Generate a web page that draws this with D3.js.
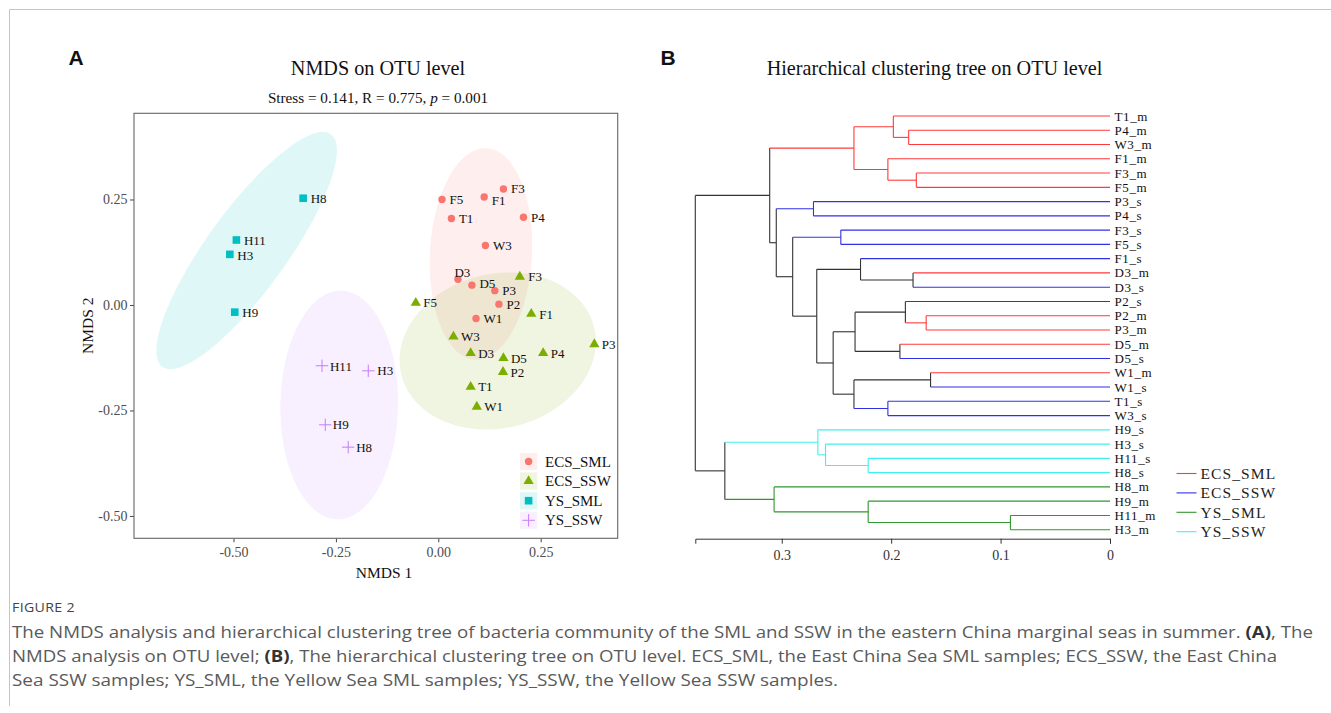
<!DOCTYPE html>
<html><head><meta charset="utf-8">
<script src="https://cdn.jsdelivr.net/npm/d3@7"></script>
<style>body{margin:0;background:#fff;} svg{display:block;}</style>
</head><body>
<svg id="fig" width="1331" height="713"></svg>
<script>
// ---------------- DATA ----------------
const groups = ["ECS_SML", "ECS_SSW", "YS_SML", "YS_SSW"];

const ecsSmlSites = ["F3","F5","F1","T1","P4","W3","D3","D5","P3","P2","W1"];
const ecsSmlX = [0.159, 0.009, 0.112, 0.032, 0.208, 0.115, 0.048, 0.082, 0.138, 0.148, 0.092];
const ecsSmlY = [0.275, 0.250, 0.256, 0.205, 0.208, 0.141, 0.061, 0.047, 0.034, 0.002, -0.032];

const ecsSswSites = ["F3","F5","F1","W3","D3","D5","P4","P3","P2","T1","W1"];
const ecsSswX = [0.199, -0.055, 0.227, 0.037, 0.079, 0.159, 0.256, 0.381, 0.158, 0.079, 0.094];
const ecsSswY = [0.067, 0.005, -0.021, -0.075, -0.114, -0.126, -0.114, -0.093, -0.159, -0.194, -0.241];

const ysSmlSites = ["H8","H11","H3","H9"];
const ysSmlX = [-0.330, -0.493, -0.509, -0.497];
const ysSmlY = [0.253, 0.154, 0.120, -0.017];

const ysSswSites = ["H11","H3","H9","H8"];
const ysSswX = [-0.284, -0.171, -0.276, -0.220];
const ysSswY = [-0.144, -0.156, -0.284, -0.337];

// 95% ellipses (data units): centre, semi-axes, angle of major axis (deg)
const ellipseCx = [0.104, 0.145, -0.468, -0.242];
const ellipseCy = [0.121, -0.109, 0.129, -0.237];
const ellipseA = [0.251, 0.242, 0.344, 0.271];
const ellipseB = [0.1245, 0.183, 0.0967, 0.1436];
const ellipseAngle = [86.7, 12.4, 53.1, 89];

const xTicks = [-0.50, -0.25, 0.00, 0.25];
const yTicks = [-0.50, -0.25, 0.00, 0.25];

// Dendrogram
const leafLabels = ["T1_m","P4_m","W3_m","F1_m","F3_m","F5_m","P3_s","P4_s","F3_s","F5_s",
  "F1_s","D3_m","D3_s","P2_s","P2_m","P3_m","D5_m","D5_s","W1_m","W1_s",
  "T1_s","W3_s","H9_s","H3_s","H11_s","H8_s","H8_m","H9_m","H11_m","H3_m"];
const leafGroups = ["ECS_SML","ECS_SML","ECS_SML","ECS_SML","ECS_SML","ECS_SML","ECS_SSW","ECS_SSW","ECS_SSW","ECS_SSW",
  "ECS_SSW","ECS_SML","ECS_SSW","ECS_SSW","ECS_SML","ECS_SML","ECS_SML","ECS_SSW","ECS_SML","ECS_SSW",
  "ECS_SSW","ECS_SSW","YS_SSW","YS_SSW","YS_SSW","YS_SSW","YS_SML","YS_SML","YS_SML","YS_SML"];
// merges: [left, right, height]; "m<n>" refers to the n-th merge (1-based)
const merges = [
  ["P4_m","W3_m",0.184], ["T1_m","m1",0.198], ["F3_m","F5_m",0.177], ["F1_m","m3",0.203],
  ["m2","m4",0.234], ["P3_s","P4_s",0.271], ["F3_s","F5_s",0.246], ["D3_m","D3_s",0.180],
  ["F1_s","m8",0.228], ["P2_m","P3_m",0.168], ["P2_s","m10",0.187], ["D5_m","D5_s",0.192],
  ["m11","m12",0.233], ["W1_m","W1_s",0.164], ["T1_s","W3_s",0.203], ["m14","m15",0.234],
  ["m13","m16",0.253], ["m9","m17",0.268], ["m7","m18",0.290], ["m6","m19",0.305],
  ["m5","m20",0.311], ["H11_s","H8_s",0.221], ["H3_s","m22",0.260], ["H9_s","m23",0.267],
  ["H11_m","H3_m",0.091], ["H9_m","m25",0.221], ["H8_m","m26",0.307], ["m24","m27",0.352],
  ["m21","m28",0.379]
];
const treeTicks = [0.3, 0.2, 0.1, 0];

// ---------------- STYLE ----------------
const ptColor = {ECS_SML:"#F8766D", ECS_SSW:"#7CAE00", YS_SML:"#00BFC4", YS_SSW:"#C77CFF"};
const treeColor = {ECS_SML:"#ff3a3a", ECS_SSW:"#3030e8", YS_SML:"#2f962f", YS_SSW:"#3ff0f0"};
const serif = "'Liberation Serif','Times New Roman',serif";
const sans = "'Liberation Sans',Arial,sans-serif";

const svg = d3.select("#fig");

// frame
svg.append("line").attr("x1",9.5).attr("y1",9.5).attr("x2",1331).attr("y2",9.5).attr("stroke","#c4c4c4");
svg.append("line").attr("x1",9.5).attr("y1",9.5).attr("x2",9.5).attr("y2",706).attr("stroke","#c4c4c4");

// panel letters
svg.append("text").attr("x",68.5).attr("y",65).text("A").attr("font-family",sans).attr("font-weight","bold").attr("font-size",21).attr("fill","#111");
svg.append("text").attr("x",660.5).attr("y",65).text("B").attr("font-family",sans).attr("font-weight","bold").attr("font-size",21).attr("fill","#111");

// ---------------- PANEL A ----------------
const x = d3.scaleLinear().domain([-0.743, 0.438]).range([134, 617.7]);
const y = d3.scaleLinear().domain([-0.553, 0.4543]).range([538.3, 113.3]);

svg.append("text").attr("x",378).attr("y",75).attr("text-anchor","middle")
  .attr("font-family",serif).attr("font-size",20.2).attr("fill","#111").text("NMDS on OTU level");
const sub = svg.append("text").attr("x",378).attr("y",103.3).attr("text-anchor","middle")
  .attr("font-family",serif).attr("font-size",15.2).attr("fill","#111");
sub.append("tspan").text("Stress = 0.141, R = 0.775, ");
sub.append("tspan").attr("font-style","italic").text("p");
sub.append("tspan").text(" = 0.001");

const ellLine = d3.line().x(d=>x(d[0])).y(d=>y(d[1])).curve(d3.curveLinearClosed);
function ellipsePts(cx, cy, a, b, deg){
  const t = deg*Math.PI/180;
  return d3.range(0, 360, 3).map(k=>{
    const u = k*Math.PI/180, ex = a*Math.cos(u), ey = b*Math.sin(u);
    return [cx + ex*Math.cos(t) - ey*Math.sin(t), cy + ex*Math.sin(t) + ey*Math.cos(t)];
  });
}
const gE = svg.append("g");
groups.forEach((g,i)=>{
  gE.append("path").attr("d", ellLine(ellipsePts(ellipseCx[i], ellipseCy[i], ellipseA[i], ellipseB[i], ellipseAngle[i])))
    .attr("fill", ptColor[g]).attr("fill-opacity", 0.12).attr("stroke","none");
});

// axes
const xAxis = d3.axisBottom(x).tickValues(xTicks).tickFormat(d=>d.toFixed(2)).tickSize(4).tickSizeOuter(0).tickPadding(4.5);
const yAxis = d3.axisLeft(y).tickValues(yTicks).tickFormat(d=>d.toFixed(2)).tickSize(4).tickSizeOuter(0).tickPadding(2.5);
const gx = svg.append("g").attr("transform","translate(0,538.3)").call(xAxis);
const gy = svg.append("g").attr("transform","translate(134,0)").call(yAxis);
[gx, gy].forEach(g=>{
  g.attr("font-family",serif);
  g.select(".domain").remove();
  g.selectAll(".tick line").attr("stroke","#444");
  g.selectAll(".tick text").attr("font-family",serif).attr("font-size",14).attr("fill","#4d4d4d");
});
svg.append("rect").attr("x",134).attr("y",113.3).attr("width",617.7-134).attr("height",538.3-113.3)
  .attr("fill","none").attr("stroke","#666").attr("stroke-width",1.1);

svg.append("text").attr("x",384).attr("y",578.3).attr("text-anchor","middle")
  .attr("font-family",serif).attr("font-size",15.5).attr("fill","#111").text("NMDS 1");
svg.append("text").attr("transform","translate(93,325.8) rotate(-90)").attr("text-anchor","middle")
  .attr("font-family",serif).attr("font-size",15.5).attr("fill","#111").text("NMDS 2");

// marker drawing
function drawMarker(sel, g, cx, cy){
  if(g==="ECS_SML"){
    sel.append("circle").attr("cx",cx).attr("cy",cy).attr("r",3.7).attr("fill",ptColor[g]);
  } else if(g==="ECS_SSW"){
    sel.append("path").attr("d", d3.symbol(d3.symbolTriangle, 46)()).attr("transform",`translate(${cx},${cy})`).attr("fill",ptColor[g]);
  } else if(g==="YS_SML"){
    sel.append("rect").attr("x",cx-3.8).attr("y",cy-3.8).attr("width",7.6).attr("height",7.6).attr("fill",ptColor[g]);
  } else {
    sel.append("path").attr("d",`M${cx-6.2},${cy}H${cx+6.2}M${cx},${cy-6.2}V${cy+6.2}`).attr("stroke",ptColor[g]).attr("stroke-width",1).attr("fill","none");
  }
}

const pointSets = [
  {g:"ECS_SML", s:ecsSmlSites, xs:ecsSmlX, ys:ecsSmlY},
  {g:"ECS_SSW", s:ecsSswSites, xs:ecsSswX, ys:ecsSswY},
  {g:"YS_SML", s:ysSmlSites, xs:ysSmlX, ys:ysSmlY},
  {g:"YS_SSW", s:ysSswSites, xs:ysSswX, ys:ysSswY}
];
// label placement nudges (pixels)
const labelNudge = {"ECS_SML:F1":[0,4], "ECS_SML:D3":[-11,-6.7], "ECS_SML:D5":[0,-1.3],
  "ECS_SSW:F1":[0.5,1], "ECS_SSW:F3":[1,0], "YS_SML:H3":[0,1.3], "YS_SSW:H11":[0.5,1], "YS_SSW:H3":[1.5,-0.5], "YS_SSW:H8":[0.5,0.7]};

const gP = svg.append("g"), gL = svg.append("g");
pointSets.forEach(ps=>{
  ps.s.forEach((site,i)=>{
    const cx = x(ps.xs[i]), cy = y(ps.ys[i]);
    drawMarker(gP, ps.g, cx, cy);
    const n = labelNudge[ps.g+":"+site] || [0,0];
    gL.append("text").attr("x", cx + 7.5 + n[0]).attr("y", cy + n[1]).attr("dominant-baseline","central")
      .attr("font-family",serif).attr("font-size",13).attr("fill","#111").text(site);
  });
});

// legend A
const legA = svg.append("g");
groups.forEach((g,i)=>{
  const cy = 461.5 + i*19.6;
  legA.append("rect").attr("x",520).attr("y",cy-8.6).attr("width",17.2).attr("height",17.2)
    .attr("fill",ptColor[g]).attr("fill-opacity",0.12);
  drawMarker(legA, g, 528.6, cy);
  legA.append("text").attr("x",545).attr("y",cy).attr("dominant-baseline","central")
    .attr("font-family",serif).attr("font-size",15).attr("fill","#111").text(g);
});

// ---------------- PANEL B ----------------
svg.append("text").attr("x",934.5).attr("y",75).attr("text-anchor","middle")
  .attr("font-family",serif).attr("font-size",20.2).attr("fill","#111").text("Hierarchical clustering tree on OTU level");

const leafY = d3.scalePoint().domain(leafLabels).range([116, 529.7]);
const hx = d3.scaleLinear().domain([0.379, 0]).range([695.3, 1110]);

const nodes = {};
leafLabels.forEach((l,i)=>{ nodes[l] = {name:l, y:leafY(l), h:0, group:leafGroups[i], leaf:true}; });
merges.forEach((m,i)=>{
  const a = nodes[m[0]], b = nodes[m[1]];
  nodes["m"+(i+1)] = {children:[a,b], h:m[2], y:(a.y+b.y)/2, group:(a.group && a.group===b.group) ? a.group : null};
});
const col = n => n.group ? treeColor[n.group] : "#333";

const gT = svg.append("g").attr("fill","none").attr("stroke-width",1.1);
merges.forEach((m,i)=>{
  const nd = nodes["m"+(i+1)];
  const [a,b] = nd.children;
  const px = hx(nd.h);
  gT.append("line").attr("x1",px).attr("x2",px).attr("y1",a.y).attr("y2",b.y).attr("stroke",col(nd));
  [a,b].forEach(c=>{
    gT.append("line").attr("x1",px).attr("x2",hx(c.h)).attr("y1",c.y).attr("y2",c.y).attr("stroke",col(c));
  });
});

leafLabels.forEach(l=>{
  svg.append("text").attr("x",1114.5).attr("y",leafY(l)).attr("dominant-baseline","central")
    .attr("font-family",serif).attr("font-size",13).attr("letter-spacing",0.6).attr("fill","#111").text(l);
});

const tAxis = d3.axisBottom(hx).tickValues(treeTicks).tickFormat(d=> d===0 ? "0" : d.toFixed(1)).tickSize(5).tickSizeOuter(5).tickPadding(6);
const gt = svg.append("g").attr("transform","translate(0,538.7)").call(tAxis);
gt.attr("font-family",serif);
gt.select(".domain").attr("stroke","#333");
gt.selectAll(".tick line").attr("stroke","#333");
gt.selectAll(".tick text").attr("font-family",serif).attr("font-size",14).attr("fill","#333");

// legend B
groups.forEach((g,i)=>{
  const cy = 473.5 + i*19.4;
  svg.append("line").attr("x1",1176.5).attr("x2",1196.5).attr("y1",cy).attr("y2",cy).attr("stroke",treeColor[g]).attr("stroke-width",1.1);
  svg.append("text").attr("x",1200.5).attr("y",cy).attr("dominant-baseline","central")
    .attr("font-family",serif).attr("font-size",15.5).attr("letter-spacing",1.1).attr("fill","#222").text(g);
});

// ---------------- CAPTION ----------------
const capFont = "'Open Sans','Noto Sans',sans-serif";
svg.append("text").attr("x",12).attr("y",611.5).attr("font-family",capFont).attr("font-size",13)
  .attr("letter-spacing",0.3).attr("fill","#444").attr("textLength",63).attr("lengthAdjust","spacingAndGlyphs").text("FIGURE 2");
const capLines = [
  {y:638, w:1301, parts:[["The NMDS analysis and hierarchical clustering tree of bacteria community of the SML and SSW in the eastern China marginal seas in summer. ",false],["(A)",true],[", The",false]]},
  {y:662, w:1265, parts:[["NMDS analysis on OTU level; ",false],["(B)",true],[", The hierarchical clustering tree on OTU level. ECS_SML, the East China Sea SML samples; ECS_SSW, the East China",false]]},
  {y:686, w:826, parts:[["Sea SSW samples; YS_SML, the Yellow Sea SML samples; YS_SSW, the Yellow Sea SSW samples.",false]]}
];
capLines.forEach(cl=>{
  const t = svg.append("text").attr("x",12).attr("y",cl.y).attr("font-family",capFont).attr("font-size",16)
    .attr("fill","#5a5a5a").attr("textLength",cl.w).attr("lengthAdjust","spacingAndGlyphs");
  cl.parts.forEach(p=>{ t.append("tspan").attr("font-weight", p[1] ? "bold" : "normal").attr("fill", p[1] ? "#333" : "#5a5a5a").text(p[0]); });
});
</script></body></html>
